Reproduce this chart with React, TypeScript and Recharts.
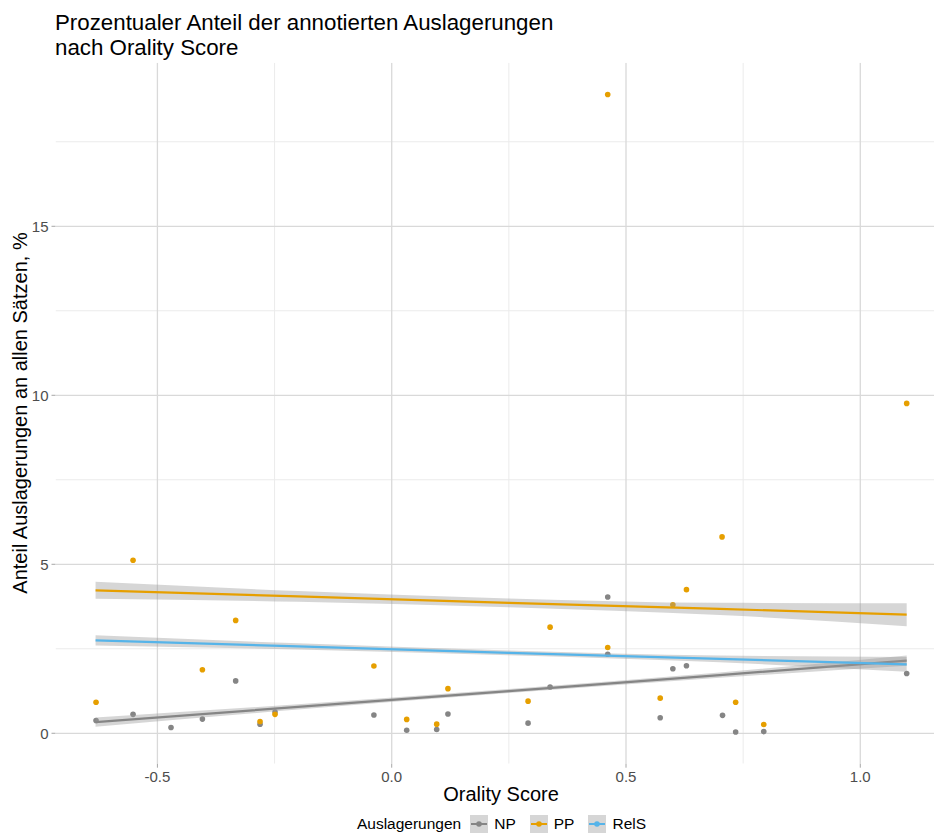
import React from "react";
import {
  ComposedChart,
  XAxis,
  YAxis,
  Scatter,
  Line,
  Area,
  ReferenceLine,
} from "recharts";

// ---- data ----
const npX = [-0.631, -0.552, -0.471, -0.404, -0.333, -0.281, -0.249, -0.038, 0.032, 0.096, 0.12, 0.291, 0.338, 0.461, 0.461, 0.573, 0.6, 0.629, 0.706, 0.734, 0.794, 1.099];
const npY = [0.38, 0.56, 0.17, 0.42, 1.55, 0.27, 0.63, 0.54, 0.09, 0.11, 0.57, 0.3, 1.37, 4.03, 2.34, 0.46, 1.91, 2.0, 0.53, 0.04, 0.05, 1.77];

const ppX = [-0.631, -0.552, -0.404, -0.333, -0.281, -0.249, -0.038, 0.032, 0.096, 0.12, 0.291, 0.338, 0.461, 0.461, 0.573, 0.6, 0.629, 0.705, 0.734, 0.794, 1.099];
const ppY = [0.92, 5.12, 1.88, 3.34, 0.35, 0.56, 1.99, 0.41, 0.27, 1.32, 0.95, 3.14, 18.9, 2.54, 1.04, 3.8, 4.25, 5.81, 0.92, 0.26, 9.76];

const fitX = [-0.632, -0.2, 0.25, 0.7, 1.099];
const npFit = [0.33, 0.78, 1.25, 1.72, 2.15];
const npLow = [0.19, 0.7, 1.19, 1.64, 2.0];
const npHigh = [0.47, 0.86, 1.31, 1.8, 2.3];
const ppFit = [4.23, 4.05, 3.86, 3.68, 3.51];
const ppLow = [3.98, 3.89, 3.73, 3.5, 3.17];
const ppHigh = [4.48, 4.21, 3.99, 3.86, 3.85];
const relsFit = [2.75, 2.57, 2.38, 2.2, 2.04];
const relsLow = [2.6, 2.48, 2.31, 2.1, 1.82];
const relsHigh = [2.9, 2.66, 2.45, 2.3, 2.26];

const xTicks = [-0.5, 0, 0.5, 1.0];
const xTickLabels = ["-0.5", "0.0", "0.5", "1.0"];
const xMinor = [-0.25, 0.25, 0.75];
const yTicks = [0, 5, 10, 15];
const yTickLabels = ["0", "5", "10", "15"];
const yMinor = [2.5, 7.5, 12.5, 17.5];

const seriesNames = ["NP", "PP", "RelS"];
const seriesColors = ["#858585", "#E69F00", "#56B4E9"];

const titleLines = ["Prozentualer Anteil der annotierten Auslagerungen", "nach Orality Score"];
const xTitle = "Orality Score";
const yTitle = "Anteil Auslagerungen an allen Sätzen, %";
const legendTitle = "Auslagerungen";

// ---- derived tables ----
const npPoints = npX.map((x, i) => ({ x, y: npY[i] }));
const ppPoints = ppX.map((x, i) => ({ x, y: ppY[i] }));
const fitRows = fitX.map((x, i) => ({
  x,
  npFit: npFit[i],
  npBand: [npLow[i], npHigh[i]],
  ppFit: ppFit[i],
  ppBand: [ppLow[i], ppHigh[i]],
  relsFit: relsFit[i],
  relsBand: [relsLow[i], relsHigh[i]],
}));

const FONT = "'Liberation Sans', Arial, Helvetica, sans-serif";
const BAND_FILL = "#999999";
const BAND_OPACITY = 0.4;
const MAJOR_GRID = "#d9d9d9";
const MINOR_GRID = "#ebebeb";

const makeDot = (color: string) => (props: any) => {
  const { cx, cy } = props;
  if (cx == null || cy == null) return <g />;
  return <circle cx={cx} cy={cy} r={2.8} fill={color} />;
};

const XTitle = () => (
  <text x={501} y={801} textAnchor="middle" fontSize={20} fill="#000" fontFamily={FONT}>
    {xTitle}
  </text>
);

const YTitle = () => (
  <text
    x={27}
    y={413}
    transform="rotate(-90, 27, 413)"
    textAnchor="middle"
    fontSize={20}
    fill="#000"
    fontFamily={FONT}
  >
    {yTitle}
  </text>
);

const LegendKey = ({ color }: { color: string }) => (
  <svg width={18} height={18} style={{ display: "block" }}>
    <rect x={0} y={0} width={18} height={18} fill={BAND_FILL} fillOpacity={BAND_OPACITY} />
    <line x1={1} y1={9} x2={17} y2={9} stroke={color} strokeWidth={2} />
    <circle cx={9} cy={9} r={2.8} fill={color} />
  </svg>
);

const titleStyle: React.CSSProperties = {
  position: "absolute",
  left: 55,
  height: 20,
  fontSize: 22.3,
  lineHeight: "20px",
  color: "#000",
  whiteSpace: "nowrap",
};

export default function App() {
  return (
    <div
      style={{
        position: "absolute",
        left: 0,
        top: 0,
        width: 934,
        height: 838,
        overflow: "hidden",
        background: "#ffffff",
        fontFamily: FONT,
      }}
    >
      <ComposedChart
        width={934}
        height={838}
        data={fitRows}
        margin={{ top: 62.7, right: 0, bottom: 24.3, left: 0 }}
      >
        {xMinor.map((v) => (
          <ReferenceLine key={"xm" + v} x={v} stroke={MINOR_GRID} strokeWidth={1} ifOverflow="hidden" zIndex={-90} />
        ))}
        {yMinor.map((v) => (
          <ReferenceLine key={"ym" + v} y={v} stroke={MINOR_GRID} strokeWidth={1} ifOverflow="hidden" zIndex={-90} />
        ))}
        {xTicks.map((v) => (
          <ReferenceLine key={"xM" + v} x={v} stroke={MAJOR_GRID} strokeWidth={1.3} ifOverflow="hidden" zIndex={-80} />
        ))}
        {yTicks.map((v) => (
          <ReferenceLine key={"yM" + v} y={v} stroke={MAJOR_GRID} strokeWidth={1.3} ifOverflow="hidden" zIndex={-80} />
        ))}
        <XAxis
          type="number"
          dataKey="x"
          domain={[-0.7175, 1.1573]}
          allowDataOverflow
          ticks={xTicks}
          interval={0}
          tickFormatter={(v: number) => xTickLabels[xTicks.indexOf(v)] ?? String(v)}
          tickSize={4}
          tickMargin={3.3}
          axisLine={false}
          tickLine={{ stroke: "#a6a6a6" }}
          tick={{ fill: "#4d4d4d", fontSize: 15, fontFamily: FONT }}
          height={50}
          label={<XTitle />}
        />
        <YAxis
          type="number"
          dataKey="y"
          domain={[-0.9, 19.84]}
          allowDataOverflow
          ticks={yTicks}
          interval={0}
          tickFormatter={(v: number) => yTickLabels[yTicks.indexOf(v)] ?? String(v)}
          tickSize={4}
          tickMargin={3}
          axisLine={false}
          tickLine={{ stroke: "#a6a6a6" }}
          tick={{ fill: "#4d4d4d", fontSize: 15, fontFamily: FONT }}
          width={55.5}
          label={<YTitle />}
        />
        <Scatter
          name={seriesNames[0] + " points"}
          data={npPoints}
          fill={seriesColors[0]}
          shape={makeDot(seriesColors[0])}
          isAnimationActive={false}
          zIndex={50}
        />
        <Scatter
          name={seriesNames[1] + " points"}
          data={ppPoints}
          fill={seriesColors[1]}
          shape={makeDot(seriesColors[1])}
          isAnimationActive={false}
          zIndex={51}
        />
        <Area
          dataKey="npBand"
          type="monotone"
          stroke="none"
          fill={BAND_FILL}
          fillOpacity={BAND_OPACITY}
          isAnimationActive={false}
          activeDot={false}
          zIndex={100}
        />
        <Line
          dataKey="npFit"
          type="linear"
          stroke={seriesColors[0]}
          strokeWidth={2.2}
          dot={false}
          activeDot={false}
          isAnimationActive={false}
          zIndex={110}
        />
        <Area
          dataKey="ppBand"
          type="monotone"
          stroke="none"
          fill={BAND_FILL}
          fillOpacity={BAND_OPACITY}
          isAnimationActive={false}
          activeDot={false}
          zIndex={120}
        />
        <Line
          dataKey="ppFit"
          type="linear"
          stroke={seriesColors[1]}
          strokeWidth={2.2}
          dot={false}
          activeDot={false}
          isAnimationActive={false}
          zIndex={130}
        />
        <Area
          dataKey="relsBand"
          type="monotone"
          stroke="none"
          fill={BAND_FILL}
          fillOpacity={BAND_OPACITY}
          isAnimationActive={false}
          activeDot={false}
          zIndex={140}
        />
        <Line
          dataKey="relsFit"
          type="linear"
          stroke={seriesColors[2]}
          strokeWidth={2.2}
          dot={false}
          activeDot={false}
          isAnimationActive={false}
          zIndex={150}
        />
      </ComposedChart>

      <div style={{ ...titleStyle, top: 12.8 }}>{titleLines[0]}</div>
      <div style={{ ...titleStyle, top: 37.8 }}>{titleLines[1]}</div>

      <div
        style={{
          position: "absolute",
          left: 0,
          width: 1003,
          top: 815,
          height: 18,
          display: "flex",
          justifyContent: "center",
          alignItems: "center",
          fontSize: 15.5,
          lineHeight: "18px",
          color: "#000",
          whiteSpace: "nowrap",
        }}
      >
        <span style={{ marginRight: 9 }}>{legendTitle}</span>
        {seriesNames.map((n, i) => (
          <div key={n} style={{ display: "flex", alignItems: "center", marginRight: i < seriesNames.length - 1 ? 14 : 0 }}>
            <LegendKey color={seriesColors[i]} />
            <span style={{ marginLeft: 6 }}>{n}</span>
          </div>
        ))}
      </div>
    </div>
  );
}
